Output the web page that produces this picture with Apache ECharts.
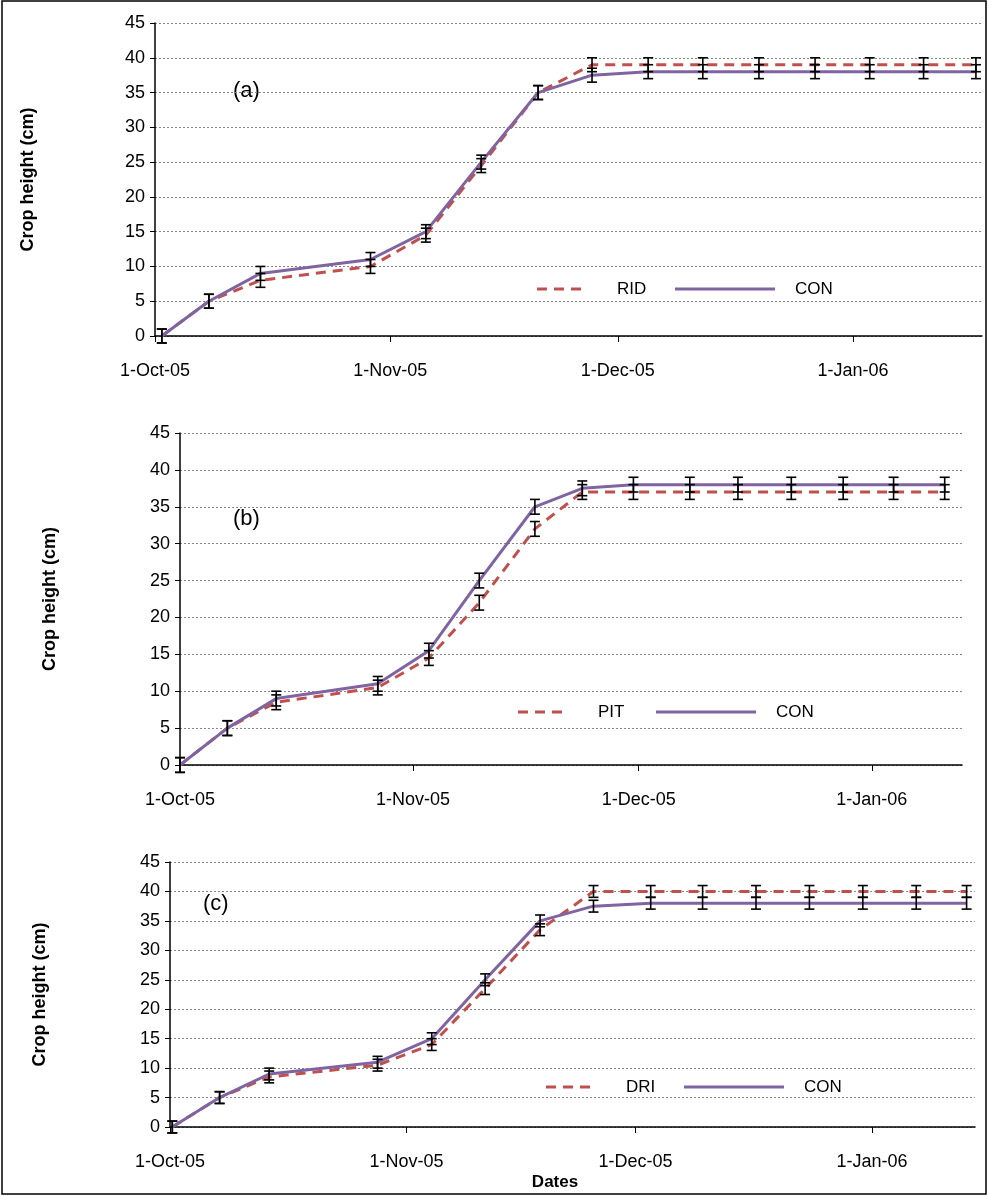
<!DOCTYPE html>
<html><head><meta charset="utf-8">
<script src="https://cdn.jsdelivr.net/npm/echarts@6/dist/echarts.min.js"></script>
<style>html,body{margin:0;padding:0;background:#fff}#c{width:988px;height:1196px}</style>
</head><body><div id="c"></div>
<script>
// days since 1-Oct-05
const daysA = [0.9,7.1,13.9,28.4,35.7,43,50.5,57.6,65,72.2,79.6,87,94.2,101.3,108.2];
const daysB = [0,6.3,12.8,26.3,33.1,39.8,47.2,53.5,60.3,67.8,74.2,81.3,88.2,94.9,101.7];
const daysC = [0.3,6.5,13,27.2,34.3,41.3,48.5,55.5,63,69.8,76.8,83.8,90.8,97.8,104.4];
const ridA = [0,5,8,10,14.5,24.5,35,39,39,39,39,39,39,39,39];
const conA = [0,5,9,11,15,25,35,37.5,38,38,38,38,38,38,38];
const pitB = [0,5,8.5,10.5,14.5,22,32,37,37,37,37,37,37,37,37];
const conB = [0,5,9,11,15.5,25,35,37.5,38,38,38,38,38,38,38];
const driC = [0,5,8.5,10.5,14,23.5,33.5,40,40,40,40,40,40,40,40];
const conC = [0,5,9,11,15,25,35,37.5,38,38,38,38,38,38,38];
const err = 1;
const monthTicks = [0,31,61,92];
const monthLabels = {0:'1-Oct-05',31:'1-Nov-05',61:'1-Dec-05',92:'1-Jan-06'};
const yTicks = [0,5,10,15,20,25,30,35,40,45];

const font = "'Liberation Sans Narrow','Liberation Sans',sans-serif";
const panels = [
  {days:daysA,t:ridA,c:conA,name:'RID',grid:{left:155,top:23,width:827,height:313},xmax:109,labelMargin:26,tag:'(a)',tagPos:[233,80],leg:[537,289],yTitleX:28},
  {days:daysB,t:pitB,c:conB,name:'PIT',grid:{left:180,top:433,width:782,height:332},xmax:104,labelMargin:26,tag:'(b)',tagPos:[233,508],leg:[518,712],yTitleX:50},
  {days:daysC,t:driC,c:conC,name:'DRI',grid:{left:170,top:862,width:805,height:265},xmax:105.5,labelMargin:26,tag:'(c)',tagPos:[203,893],leg:[546,1087],yTitleX:40}
];
const grids=[],xAxes=[],yAxes=[],series=[],graphics=[];
function errBars(idx,days,vals){
  return {type:'custom',xAxisIndex:idx,yAxisIndex:idx,z:5,
    data:days.map((d,i)=>[d,vals[i]-err,vals[i]+err]),
    renderItem:(p,api)=>{
      const lo=api.coord([api.value(0),api.value(1)]),hi=api.coord([api.value(0),api.value(2)]);
      const w=5,s={stroke:'#000',lineWidth:1.6};
      return {type:'group',children:[
        {type:'line',shape:{x1:lo[0],y1:lo[1],x2:hi[0],y2:hi[1]},style:s},
        {type:'line',shape:{x1:lo[0]-w,y1:lo[1],x2:lo[0]+w,y2:lo[1]},style:s},
        {type:'line',shape:{x1:hi[0]-w,y1:hi[1],x2:hi[0]+w,y2:hi[1]},style:s}]};
    }};
}
panels.forEach((p,i)=>{
  grids.push(p.grid);
  xAxes.push({type:'value',gridIndex:i,min:0,max:p.xmax,
    axisLine:{lineStyle:{color:'#000',width:1.5}},splitLine:{show:false},
    axisTick:{show:true,customValues:monthTicks,inside:false,length:6,lineStyle:{color:'#000'}},
    axisLabel:{customValues:monthTicks,formatter:v=>monthLabels[v]||'',margin:p.labelMargin,color:'#000',fontSize:18,fontFamily:font}});
  yAxes.push({type:'value',gridIndex:i,min:0,max:45,interval:5,
    axisLine:{show:true,lineStyle:{color:'#000',width:1.5}},
    axisTick:{show:true,length:5,lineStyle:{color:'#000'}},
    splitLine:{show:true,lineStyle:{color:'#888',type:[2,2],width:1}},
    axisLabel:{color:'#000',fontSize:18,fontFamily:font,margin:10}});
  series.push({type:'line',xAxisIndex:i,yAxisIndex:i,data:p.days.map((d,k)=>[d,p.t[k]]),symbol:'none',
    lineStyle:{color:'#C0504D',width:3,type:[10,7]},z:3});
  series.push({type:'line',xAxisIndex:i,yAxisIndex:i,data:p.days.map((d,k)=>[d,p.c[k]]),symbol:'none',
    lineStyle:{color:'#8064A2',width:3},z:4});
  series.push(errBars(i,p.days,p.t));
  series.push(errBars(i,p.days,p.c));
  const cy=p.grid.top+p.grid.height/2;
  graphics.push({type:'text',x:p.yTitleX,y:cy,rotation:Math.PI/2,style:{text:'Crop height (cm)',font:'bold 18px '+font,fill:'#000',align:'center',verticalAlign:'middle'}});
  graphics.push({type:'text',x:p.tagPos[0],y:p.tagPos[1],style:{text:p.tag,font:'22px '+font,fill:'#000'}});
  const [lx,ly]=p.leg;
  graphics.push({type:'line',shape:{x1:lx,y1:ly,x2:lx+46,y2:ly},style:{stroke:'#C0504D',lineWidth:3,lineDash:[10,7]}});
  graphics.push({type:'text',x:lx+80,y:ly,style:{text:p.name,font:'17px '+font,fill:'#000',verticalAlign:'middle'}});
  graphics.push({type:'line',shape:{x1:lx+138,y1:ly,x2:lx+238,y2:ly},style:{stroke:'#8064A2',lineWidth:3}});
  graphics.push({type:'text',x:lx+258,y:ly,style:{text:'CON',font:'17px '+font,fill:'#000',verticalAlign:'middle'}});
});
graphics.push({type:'text',x:555,y:1182,style:{text:'Dates',font:'bold 17px '+font,fill:'#000',align:'center',verticalAlign:'middle'}});
graphics.push({type:'rect',shape:{x:2,y:1,width:984,height:1193},style:{fill:'none',stroke:'#000',lineWidth:1.5}});
const chart=echarts.init(document.getElementById('c'));
chart.setOption({animation:false,grid:grids,xAxis:xAxes,yAxis:yAxes,series:series,graphic:graphics});
</script></body></html>
